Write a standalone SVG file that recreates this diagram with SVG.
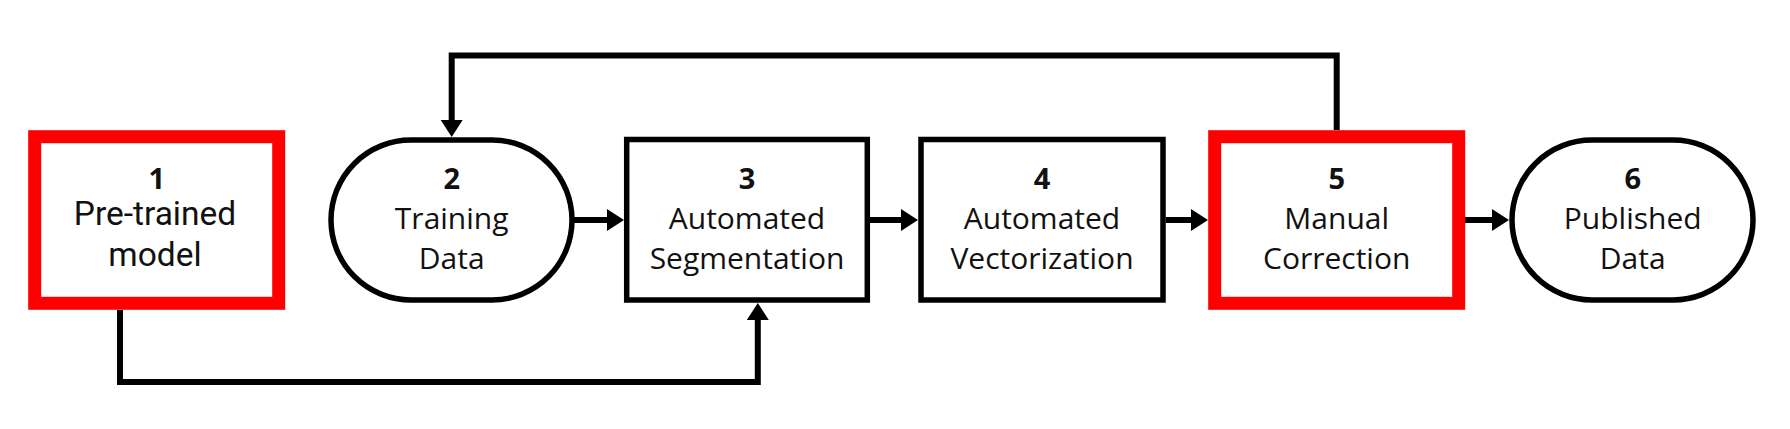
<svg xmlns="http://www.w3.org/2000/svg" width="1790" height="429" viewBox="0 0 1790 429">
  <style>
    .bg { fill: #ffffff; }
    .box { fill: #ffffff; stroke: #000000; stroke-width: 5.5; }
    .redbox { fill: #ffffff; stroke: #ff0000; stroke-width: 13; }
    .num { font-family: "Open Sans", "Noto Sans", sans-serif; font-weight: 700; font-size: 29px; fill: #111111; text-anchor: middle; }
    .lbl { font-family: "Open Sans", "Noto Sans", sans-serif; font-size: 30px; fill: #111111; text-anchor: middle; }
    .lbl1 { font-family: Roboto, "Noto Sans", sans-serif; font-size: 33.5px; fill: #111111; text-anchor: middle; }
    .conn { fill: none; stroke: #000000; stroke-width: 6; stroke-linejoin: miter; }
  </style>
  <defs>
    <marker id="arrow" markerUnits="userSpaceOnUse" markerWidth="18" markerHeight="22" refX="0" refY="11" orient="auto" overflow="visible">
      <path d="M0,0 L17,11 L0,22 Z" fill="#000000"/>
    </marker>
  </defs>
  <rect class="bg" x="0" y="0" width="1790" height="429"/>

  <g id="connectors">
    <path class="conn" d="M572,220 H607" marker-end="url(#arrow)"/>
    <path class="conn" d="M870,220 H901" marker-end="url(#arrow)"/>
    <path class="conn" d="M1165.7,220 H1191" marker-end="url(#arrow)"/>
    <path class="conn" d="M1465,220 H1492" marker-end="url(#arrow)"/>
    <path class="conn" d="M1336.7,130 V55.5 H451.7 V120" marker-end="url(#arrow)"/>
    <path class="conn" d="M120,310 V382 H757.8 V320" marker-end="url(#arrow)"/>
  </g>

  <g id="node1">
    <rect class="redbox" x="34.7" y="136.7" width="244" height="166.6"/>
    <text class="num" x="156.7" y="189">1</text>
    <text class="lbl1" x="155" y="225">Pre-trained</text>
    <text class="lbl1" x="155" y="265.7">model</text>
  </g>

  <g id="node2">
    <rect class="box" x="331" y="140" width="241" height="160" rx="80" ry="80"/>
    <text class="num" x="451.7" y="189">2</text>
    <text class="lbl" x="451.7" y="229">Training</text>
    <text class="lbl" x="451.7" y="269">Data</text>
  </g>

  <g id="node3">
    <rect class="box" x="626.7" y="139.5" width="240.6" height="160.5"/>
    <text class="num" x="747" y="189">3</text>
    <text class="lbl" x="747" y="229">Automated</text>
    <text class="lbl" x="747" y="269">Segmentation</text>
  </g>

  <g id="node4">
    <rect class="box" x="921" y="139.5" width="242" height="160.5"/>
    <text class="num" x="1042" y="189">4</text>
    <text class="lbl" x="1042" y="229">Automated</text>
    <text class="lbl" x="1042" y="269">Vectorization</text>
  </g>

  <g id="node5">
    <rect class="redbox" x="1214.7" y="136.7" width="244" height="166.6"/>
    <text class="num" x="1336.7" y="189">5</text>
    <text class="lbl" x="1336.7" y="229">Manual</text>
    <text class="lbl" x="1336.7" y="269">Correction</text>
  </g>

  <g id="node6">
    <rect class="box" x="1512" y="140" width="241" height="160" rx="80" ry="80"/>
    <text class="num" x="1632.7" y="189">6</text>
    <text class="lbl" x="1632.7" y="229">Published</text>
    <text class="lbl" x="1632.7" y="269">Data</text>
  </g>
</svg>
